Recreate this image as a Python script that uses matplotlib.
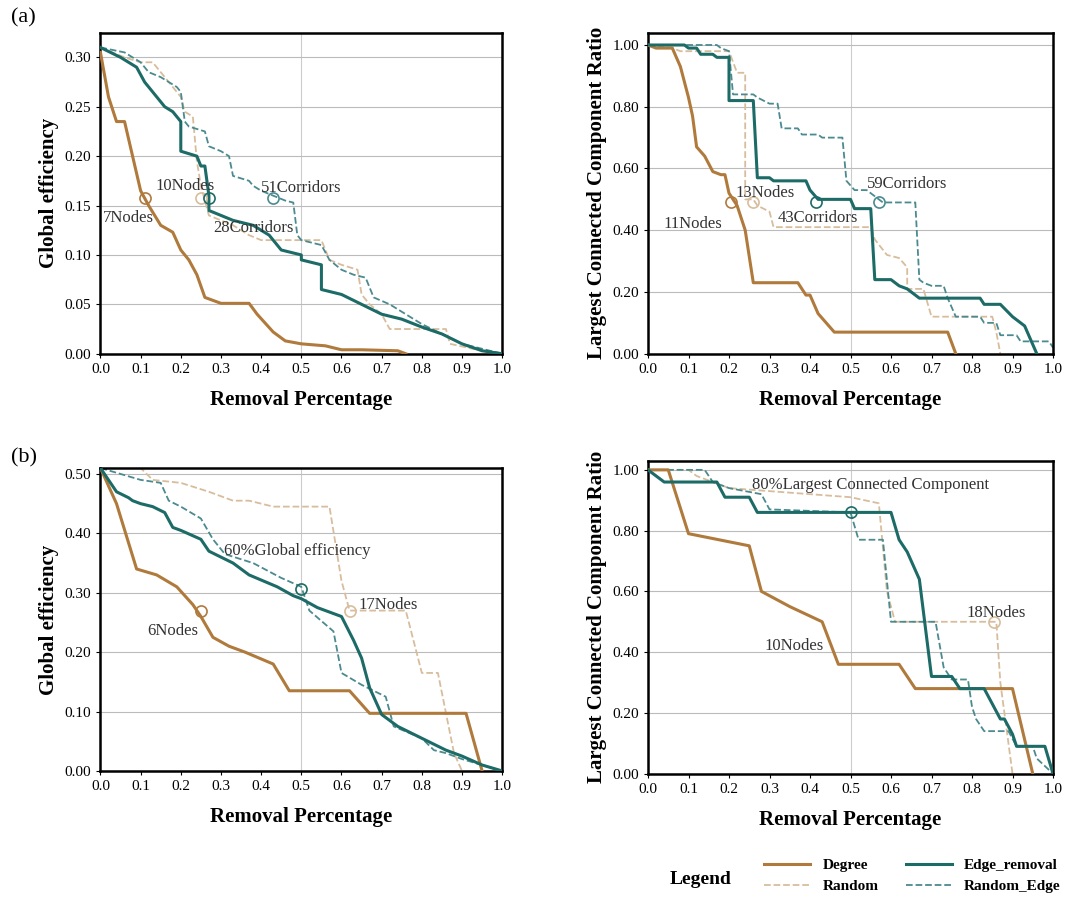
import matplotlib
matplotlib.use("Agg")
import matplotlib.pyplot as plt
from matplotlib.ticker import FormatStrFormatter

plt.rcParams["font.family"] = ["Liberation Serif", "DejaVu Serif"]

# ===== 颜色 =====
C_DEG = "#b07a3c"
C_EDGE = "#1d6b67"
C_RND = "#d8bd9c"
C_RE = "#4b8a8f"

# ===== 数据 (a) Global efficiency =====
a_ge_deg_x = [0, .02, .04, .06, .08, .1, .12, .15, .18, .2, .22, .24, .26, .3, .37, .39, .43, .46, .5, .56, .6, .65, .74, .76]
a_ge_deg_y = [.305, .26, .235, .235, .2, .165, .15, .13, .123, .105, .095, .08, .057, .051, .051, .04, .022, .013, .01, .008, .004, .004, .003, 0]
a_ge_edge_x = [0, .05, .09, .11, .13, .15, .16, .18, .2, .2, .24, .25, .26, .27, .27, .3, .33, .38, .42, .45, .5, .5, .55, .55, .6, .65, .7, .75, .8, .85, .9, .95, 1.0]
a_ge_edge_y = [.31, .3, .29, .275, .265, .255, .25, .245, .235, .205, .2, .19, .19, .16, .145, .14, .135, .13, .12, .105, .1, .095, .09, .065, .06, .05, .04, .035, .027, .02, .01, .003, 0]
a_ge_rnd_x = [0, .06, .1, .13, .15, .18, .2, .21, .23, .24, .25, .26, .27, .3, .33, .37, .4, .55, .57, .6, .64, .65, .67, .7, .72, .86, .87, .95, 1.0]
a_ge_rnd_y = [.31, .3, .295, .295, .285, .27, .26, .245, .24, .195, .17, .155, .14, .135, .13, .12, .115, .115, .095, .09, .085, .06, .05, .04, .025, .025, .01, .003, 0]
a_ge_re_x = [0, .06, .1, .12, .15, .19, .2, .21, .22, .26, .27, .3, .32, .33, .37, .38, .4, .43, .46, .48, .49, .5, .55, .57, .6, .63, .66, .68, .72, .8, .9, 1.0]
a_ge_re_y = [.31, .305, .295, .285, .28, .27, .265, .235, .23, .225, .21, .205, .2, .18, .175, .17, .165, .16, .155, .153, .12, .115, .11, .095, .085, .08, .077, .057, .05, .03, .01, 0]

# ===== 数据 (a) LCC =====
a_lcc_deg_x = [0, .02, .06, .08, .1, .11, .12, .14, .16, .18, .19, .2, .22, .24, .26, .37, .39, .4, .42, .46, .74, .76]
a_lcc_deg_y = [1, .99, .99, .93, .83, .77, .67, .64, .59, .58, .58, .52, .48, .4, .23, .23, .19, .19, .13, .07, .07, 0]
a_lcc_edge_x = [0, .09, .1, .12, .13, .16, .17, .2, .2, .26, .27, .3, .31, .39, .4, .42, .5, .51, .55, .56, .6, .62, .64, .65, .66, .67, .82, .83, .87, .9, .92, .93, .96]
a_lcc_edge_y = [1, 1, .99, .99, .97, .97, .96, .96, .82, .82, .57, .57, .56, .56, .53, .5, .5, .47, .47, .24, .24, .22, .21, .2, .19, .18, .18, .16, .16, .12, .1, .09, 0]
a_lcc_rnd_x = [0, .06, .08, .2, .22, .24, .24, .26, .27, .3, .31, .55, .56, .59, .62, .64, .64, .68, .7, .85, .86, .87]
a_lcc_rnd_y = [1, .99, .98, .98, .91, .91, .5, .5, .48, .46, .41, .41, .37, .32, .31, .28, .21, .21, .12, .12, .07, 0]
a_lcc_re_x = [0, .17, .18, .2, .21, .26, .27, .3, .32, .33, .37, .38, .42, .43, .48, .49, .51, .54, .56, .58, .66, .67, .68, .7, .73, .74, .75, .76, .82, .83, .86, .87, .91, .92, .99, 1.0]
a_lcc_re_y = [1, 1, .99, .98, .84, .84, .83, .81, .81, .73, .73, .71, .71, .7, .7, .56, .53, .53, .51, .49, .49, .24, .23, .22, .22, .18, .15, .12, .12, .1, .1, .06, .06, .04, .04, .02]

# ===== 数据 (b) Global efficiency =====
b_ge_deg_x = [0, .04, .09, .14, .19, .23, .25, .28, .32, .36, .43, .47, .62, .67, .91, .95]
b_ge_deg_y = [.51, .45, .34, .33, .31, .28, .26, .225, .21, .2, .18, .135, .135, .097, .097, 0]
b_ge_edge_x = [0, .04, .07, .08, .1, .13, .16, .18, .2, .25, .27, .3, .33, .37, .44, .48, .5, .54, .58, .6, .63, .65, .67, .7, .74, .8, .86, .9, .95, 1.0]
b_ge_edge_y = [.51, .47, .46, .455, .45, .445, .435, .41, .405, .39, .37, .36, .35, .33, .31, .295, .29, .275, .265, .26, .22, .19, .14, .095, .075, .055, .035, .025, .01, 0]
b_ge_rnd_x = [0, .1, .13, .2, .27, .33, .37, .43, .57, .6, .62, .76, .8, .84, .88, .9]
b_ge_rnd_y = [.515, .51, .49, .485, .47, .455, .455, .445, .445, .32, .27, .27, .165, .165, .03, 0]
b_ge_re_x = [0, .1, .15, .17, .2, .25, .28, .31, .38, .45, .5, .52, .58, .6, .65, .71, .73, .8, .83, .86, .9, 1.0]
b_ge_re_y = [.51, .49, .485, .455, .445, .425, .39, .365, .35, .325, .31, .27, .235, .165, .145, .125, .075, .055, .035, .03, .02, 0]

# ===== 数据 (b) LCC =====
b_lcc_deg_x = [0, .05, .1, .25, .28, .35, .43, .47, .62, .66, .9, .95]
b_lcc_deg_y = [1, 1, .79, .75, .6, .55, .5, .36, .36, .28, .28, 0]
b_lcc_edge_x = [0, .04, .17, .19, .25, .27, .6, .62, .64, .67, .7, .75, .77, .83, .87, .88, .9, .91, .98, 1.0]
b_lcc_edge_y = [1, .96, .96, .91, .91, .86, .86, .77, .73, .64, .32, .32, .28, .28, .18, .18, .13, .09, .09, 0]
b_lcc_rnd_x = [0, .1, .12, .2, .3, .5, .57, .59, .61, .86, .87, .9]
b_lcc_rnd_y = [1, 1, .98, .94, .93, .91, .89, .6, .5, .5, .3, 0]
b_lcc_re_x = [0, .14, .16, .2, .28, .3, .5, .52, .58, .6, .71, .73, .75, .79, .8, .81, .83, .89, .91, .95, .96, 1.0]
b_lcc_re_y = [1, 1, .96, .94, .92, .87, .86, .77, .77, .5, .5, .35, .31, .31, .22, .18, .14, .14, .09, .09, .05, 0]

# ===== 标注: (文字, x, y) 和 标记点 (颜色, x, y) =====
a_ge_texts = [("10Nodes", .21, .17), ("7Nodes", .07, .137), ("51Corridors", .5, .168), ("28Corridors", .38, .127)]
a_ge_marks = [(C_DEG, .11, .158), (C_RND, .25, .158), (C_EDGE, .27, .158), (C_RE, .43, .158)]
a_lcc_texts = [("13Nodes", .29, .52), ("11Nodes", .11, .42), ("43Corridors", .42, .44), ("59Corridors", .64, .55)]
a_lcc_marks = [(C_DEG, .205, .49), (C_RND, .26, .49), (C_EDGE, .415, .49), (C_RE, .57, .49)]
b_ge_texts = [("60%Global efficiency", .49, .37), ("17Nodes", .715, .28), ("6Nodes", .18, .235)]
b_ge_marks = [(C_DEG, .25, .27), (C_EDGE, .5, .307), (C_RND, .62, .27)]
b_lcc_texts = [("80%Largest Connected Component", .55, .95), ("18Nodes", .86, .53), ("10Nodes", .36, .42)]
b_lcc_marks = [(C_EDGE, .5, .86), (C_RND, .855, .5)]


def draw_panel(ax, deg, edge, rnd, re_, texts, marks, ylim, yticks, ylabel):
    ax.plot(*rnd, color=C_RND, lw=1.3, ls="--", label="Random", zorder=2)
    ax.plot(*re_, color=C_RE, lw=1.3, ls="--", label="Random_Edge", zorder=2)
    ax.plot(*deg, color=C_DEG, lw=2.2, label="Degree", zorder=3)
    ax.plot(*edge, color=C_EDGE, lw=2.2, label="Edge_removal", zorder=3)
    for c, x, y in marks:
        ax.plot(x, y, "o", ms=8, mfc="none", mec=c, mew=1.2, zorder=4)
    for t, x, y in texts:
        ax.text(x, y, t, ha="center", va="center", fontsize=12, color="#333333", zorder=5)
    ax.set_xlim(0, 1)
    ax.set_ylim(*ylim)
    ax.set_xticks([i / 10 for i in range(11)])
    ax.set_yticks(yticks)
    ax.yaxis.set_major_formatter(FormatStrFormatter("%.2f"))
    ax.xaxis.set_major_formatter(FormatStrFormatter("%.1f"))
    ax.tick_params(labelsize=11, length=3)
    ax.grid(axis="y", color="#bbbbbb", lw=0.8)
    ax.axvline(0.5, color="#cccccc", lw=0.8, zorder=1)
    for s in ax.spines.values():
        s.set_linewidth(1.8)
    ax.set_xlabel("Removal Percentage", fontsize=15, fontweight="bold", labelpad=10)
    ax.set_ylabel(ylabel, fontsize=15, fontweight="bold")


fig = plt.figure(figsize=(10.8, 9.07), dpi=100)
ax1 = fig.add_axes([0.093, 0.61, 0.372, 0.354])
ax2 = fig.add_axes([0.6, 0.61, 0.375, 0.354])
ax3 = fig.add_axes([0.093, 0.15, 0.372, 0.334])
ax4 = fig.add_axes([0.6, 0.147, 0.375, 0.345])

ge_ticks_a = [0, .05, .1, .15, .2, .25, .3]
lcc_ticks = [0, .2, .4, .6, .8, 1.0]
draw_panel(ax1, (a_ge_deg_x, a_ge_deg_y), (a_ge_edge_x, a_ge_edge_y), (a_ge_rnd_x, a_ge_rnd_y),
           (a_ge_re_x, a_ge_re_y), a_ge_texts, a_ge_marks, (0, .325), ge_ticks_a, "Global efficiency")
draw_panel(ax2, (a_lcc_deg_x, a_lcc_deg_y), (a_lcc_edge_x, a_lcc_edge_y), (a_lcc_rnd_x, a_lcc_rnd_y),
           (a_lcc_re_x, a_lcc_re_y), a_lcc_texts, a_lcc_marks, (0, 1.04), lcc_ticks,
           "Largest Connected Component Ratio")
draw_panel(ax3, (b_ge_deg_x, b_ge_deg_y), (b_ge_edge_x, b_ge_edge_y), (b_ge_rnd_x, b_ge_rnd_y),
           (b_ge_re_x, b_ge_re_y), b_ge_texts, b_ge_marks, (0, .51), [0, .1, .2, .3, .4, .5], "Global efficiency")
draw_panel(ax4, (b_lcc_deg_x, b_lcc_deg_y), (b_lcc_edge_x, b_lcc_edge_y), (b_lcc_rnd_x, b_lcc_rnd_y),
           (b_lcc_re_x, b_lcc_re_y), b_lcc_texts, b_lcc_marks, (0, 1.03), lcc_ticks,
           "Largest Connected Component Ratio")

fig.text(0.01, 0.975, "(a)", fontsize=16)
fig.text(0.01, 0.49, "(b)", fontsize=16)

# 图例
h, l = ax1.get_legend_handles_labels()
order = [l.index(k) for k in ["Degree", "Random", "Edge_removal", "Random_Edge"]]
fig.legend([h[i] for i in order], [l[i] for i in order], ncol=2, loc="lower left",
           bbox_to_anchor=(0.695, 0.0), frameon=False, handlelength=3.0, columnspacing=1.8,
           handletextpad=0.8, prop={"weight": "bold", "size": 11})
fig.text(0.62, 0.03, "Legend", fontsize=14, fontweight="bold", va="center")

fig.savefig("out.png", dpi=100)
